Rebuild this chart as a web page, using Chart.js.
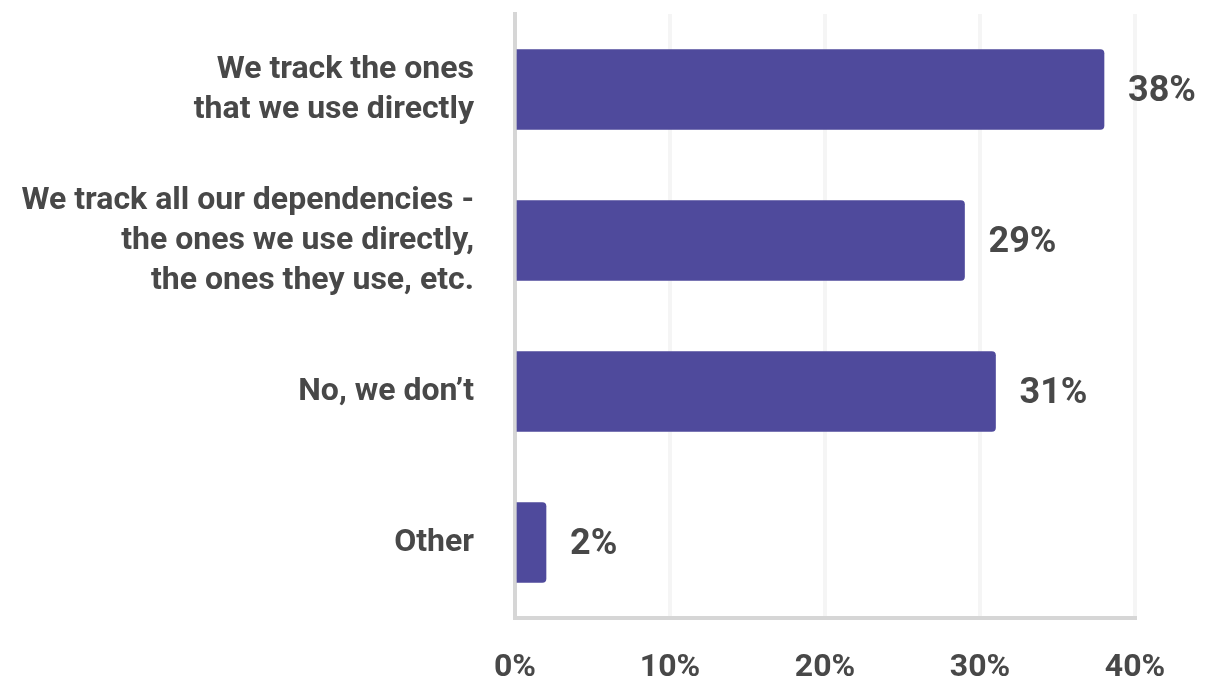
<!DOCTYPE html>
<html>
<head>
<meta charset="utf-8">
<script src="https://cdn.jsdelivr.net/npm/chart.js@4/dist/chart.umd.min.js"></script>
<style>
  html, body { margin: 0; padding: 0; background: #fff; }
  #wrap { width: 1209px; height: 681px; }
</style>
</head>
<body>
<div id="wrap"><canvas id="myChart"></canvas></div>
<script>
const categories = [
  ["We track the ones", "that we use directly"],
  ["We track all our dependencies -", "the ones we use directly,", "the ones they use, etc."],
  ["No, we don\u2019t"],
  ["Other"],
];
const shares = [38, 29, 31, 2];
const xTicks = [0, 10, 20, 30, 40];

const textColor = "#484848";
const barColor = "#4f4a9c";

// writes "38%" etc. just right of each bar end
const valueLabels = {
  id: "valueLabels",
  afterDatasetsDraw(chart) {
    const c = chart.ctx;
    const meta = chart.getDatasetMeta(0);
    c.save();
    c.font = "bold 36px Roboto";
    c.fillStyle = textColor;
    c.textAlign = "left";
    c.textBaseline = "middle";
    meta.data.forEach((bar, i) => {
      c.fillText(shares[i] + "%", bar.x + 24, bar.y + 2);
    });
    c.restore();
  },
};

const ctx = document.getElementById("myChart");

new Chart(ctx, {
  type: "bar",
  data: {
    labels: categories,
    datasets: [
      {
        data: shares,
        backgroundColor: barColor,
        barThickness: 80,
        borderRadius: 4,
      },
    ],
  },
  options: {
    indexAxis: "y",
    responsive: true,
    maintainAspectRatio: false,
    animation: false,
    layout: { padding: { top: 14, right: 74, left: 0, bottom: 0 } },
    plugins: {
      legend: { display: false },
      tooltip: { enabled: false },
    },
    scales: {
      x: {
        min: xTicks[0],
        max: xTicks[xTicks.length - 1],
        afterBuildTicks: (scale) => {
          scale.ticks = xTicks.map((v) => ({ value: v }));
        },
        afterFit: (scale) => {
          scale.height = 63;
          scale.paddingLeft = 0;
          scale.paddingRight = 0;
        },
        border: { display: true, color: "#d6d6d6", width: 4 },
        grid: { color: "#f5f5f5", lineWidth: 4, drawTicks: false },
        ticks: {
          padding: 31,
          color: textColor,
          font: { family: "Roboto", size: 32, weight: "bold" },
          callback: (v) => v + "%",
        },
      },
      y: {
        afterFit: (scale) => {
          scale.width = 515;
          scale.paddingTop = 0;
          scale.paddingBottom = 0;
        },
        border: { display: true, color: "#d6d6d6", width: 4 },
        grid: { display: false, drawTicks: false },
        ticks: {
          padding: 41,
          color: textColor,
          font: { family: "Roboto", size: 32, weight: "bold", lineHeight: 1.25 },
        },
      },
    },
  },
  plugins: [valueLabels],
});
</script>
</body>
</html>
